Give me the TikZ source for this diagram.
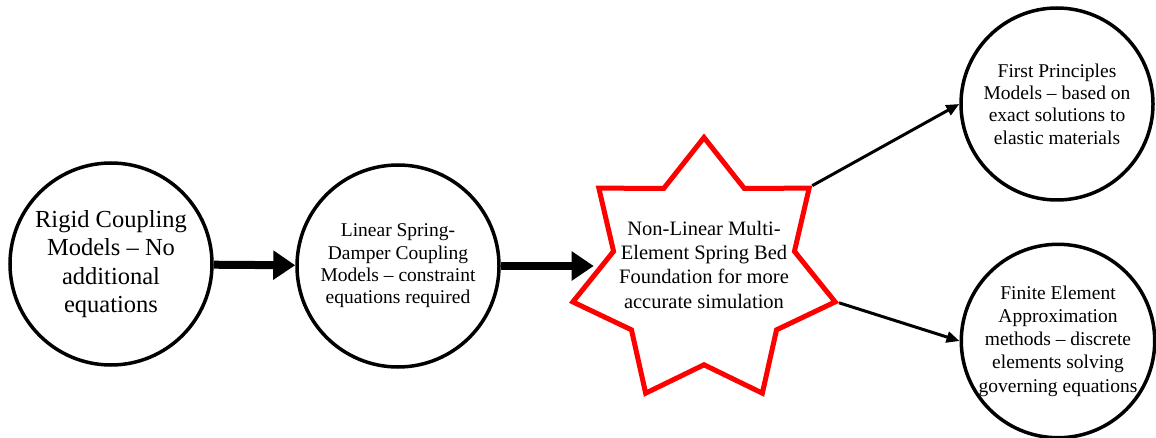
\documentclass[tikz,border=0pt]{standalone}
\usepackage{fontspec}
\setmainfont{Liberation Serif}
\usetikzlibrary{shapes.geometric,arrows.meta}

% text that does not widen the star
\newcommand{\smashtext}[1]{\makebox[0pt]{\smash{\begin{tabular}{@{}c@{}}#1\end{tabular}}}}

\tikzset{
  model/.style={circle,draw=black,line width=3.5pt,minimum size=#1,inner sep=0pt,align=center},
  bedstar/.style={star,star points=7,star point ratio=1.45,draw=red,line width=5pt,
    minimum size=269pt,inner sep=0pt},
  bigarrow/.style={line width=8pt,-{Triangle[length=22pt,width=28pt]}},
  thinarrow/.style={line width=3pt,-{Triangle[length=13pt,width=11pt]}}
}

\begin{document}
\begin{tikzpicture}[x=1pt,y=-1pt]
        \useasboundingbox (0,0) rectangle (1156,438);
        % coupling models
        \node[model=202pt,font=\fontsize{24.5}{28.3}\selectfont] (rigid) at (111,264)
          {Rigid Coupling\\Models -- No\\additional\\equations};
        \node[model=202pt,font=\fontsize{19.5}{22.4}\selectfont] (linear) at (398,266)
          {Linear Spring-\\Damper Coupling\\Models -- constraint\\equations required};
        \node[bedstar,font=\fontsize{20.5}{24.3}\selectfont] (bed) at (704,272)
          {\smashtext{Non-Linear Multi-\\Element Spring Bed\\Foundation for more\\accurate simulation}};
        \node[model=192pt,font=\fontsize{19.5}{22.4}\selectfont] (first) at (1057,104)
          {First Principles\\Models -- based on\\exact solutions to\\elastic materials};
        \node[model=192pt,font=\fontsize{19.5}{23.2}\selectfont] (fem) at (1058,341)
          {Finite Element\\Approximation\\methods -- discrete\\elements solving\\governing equations};
        % connectors
        \draw[bigarrow] (rigid) -- (linear);
        \draw[bigarrow] (linear.east) -- (bed.west |- linear.east);
        \draw[thinarrow] (bed.outer point 7) -- (first.west);
        \draw[thinarrow] (bed.outer point 6) -- (fem.west);
    \end{tikzpicture}
\end{document}
